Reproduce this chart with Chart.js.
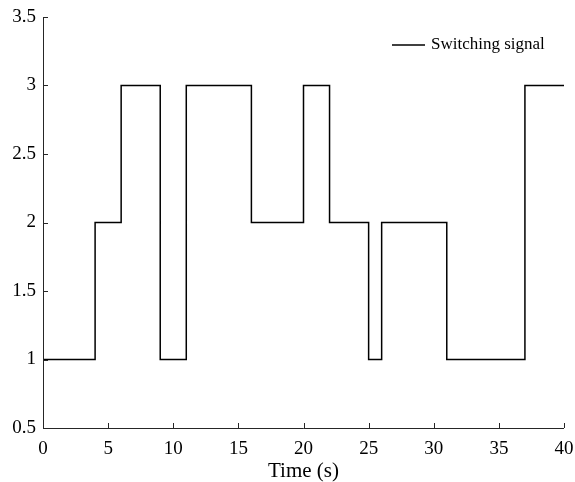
<!DOCTYPE html>
<html><head><meta charset="utf-8">
<script src="https://cdn.jsdelivr.net/npm/chart.js@4/dist/chart.umd.min.js"></script>
<style>html,body{margin:0;padding:0;background:#fff}#wrap{width:575px;height:482px}</style>
</head><body><div id="wrap"><canvas id="c" width="575" height="482"></canvas></div>
<script>
const timeSteps = [0, 4, 6, 9, 11, 16, 20, 22, 25, 26, 31, 37, 40];
const signalValues = [1, 2, 3, 1, 3, 2, 3, 2, 1, 2, 1, 3, 3];
const xTicks = [0, 5, 10, 15, 20, 25, 30, 35, 40];
const yTicks = [0.5, 1, 1.5, 2, 2.5, 3, 3.5];
const seriesLabel = 'Switching signal';
const xTitle = 'Time (s)';

const FONT = '"Liberation Serif", "Times New Roman", serif';
const AXIS = '#262626';

const innerTicks = {
  id: 'innerTicks',
  afterDraw(chart) {
    const ctx = chart.ctx, a = chart.chartArea;
    const xs = chart.scales.x, ys = chart.scales.y;
    ctx.save();
    ctx.strokeStyle = AXIS; ctx.lineWidth = 1;
    ctx.beginPath();
    ctx.moveTo(a.left + 0.5, a.top); ctx.lineTo(a.left + 0.5, a.bottom + 0.5);
    ctx.lineTo(a.right, a.bottom + 0.5);
    xTicks.forEach(v => { const p = Math.round(xs.getPixelForValue(v)) + 0.5; ctx.moveTo(p, a.bottom); ctx.lineTo(p, a.bottom - 5); });
    yTicks.forEach(v => { const p = Math.round(ys.getPixelForValue(v)) + 0.5; ctx.moveTo(a.left, p); ctx.lineTo(a.left + 5, p); });
    ctx.stroke();
    // legend
    const ds = chart.data.datasets[0];
    ctx.strokeStyle = ds.borderColor; ctx.lineWidth = 1.5;
    ctx.beginPath(); ctx.moveTo(392, 45); ctx.lineTo(425, 45); ctx.stroke();
    ctx.fillStyle = '#000'; ctx.font = '17px ' + FONT; ctx.textBaseline = 'middle'; ctx.textAlign = 'left';
    ctx.fillText(ds.label, 431, 45);
    ctx.restore();
  }
};

new Chart(document.getElementById('c'), {
  type: 'line',
  data: {
    datasets: [{
      label: seriesLabel,
      data: timeSteps.map((t, i) => ({x: t, y: signalValues[i]})),
      stepped: 'before',
      borderColor: '#000',
      borderWidth: 1.5,
      pointRadius: 0,
      fill: false
    }]
  },
  options: {
    responsive: false,
    animation: false,
    layout: {padding: {top: 17, right: 11, left: 0, bottom: 0}},
    plugins: {legend: {display: false}, tooltip: {enabled: false}},
    scales: {
      x: {
        type: 'linear', min: 0, max: 40,
        afterBuildTicks(s) { s.ticks = xTicks.map(v => ({value: v})); },
        afterFit(s) { s.height = 54; s.paddingLeft = 0; s.paddingRight = 0; },
        grid: {display: false, drawTicks: false},
        border: {display: false},
        ticks: {color: '#000', font: {family: FONT, size: 19}, padding: 10, maxRotation: 0, autoSkip: false},
        title: {display: true, text: xTitle, color: '#000', font: {family: FONT, size: 21}, padding: {top: 0, bottom: -2}}
      },
      y: {
        min: 0.5, max: 3.5,
        afterBuildTicks(s) { s.ticks = yTicks.map(v => ({value: v})); },
        afterFit(s) { s.width = 43; s.paddingTop = 0; s.paddingBottom = 0; },
        grid: {display: false, drawTicks: false},
        border: {display: false},
        ticks: {color: '#000', font: {family: FONT, size: 19}, padding: 7, autoSkip: false, callback: v => String(v)}
      }
    }
  },
  plugins: [innerTicks]
});
</script></body></html>
